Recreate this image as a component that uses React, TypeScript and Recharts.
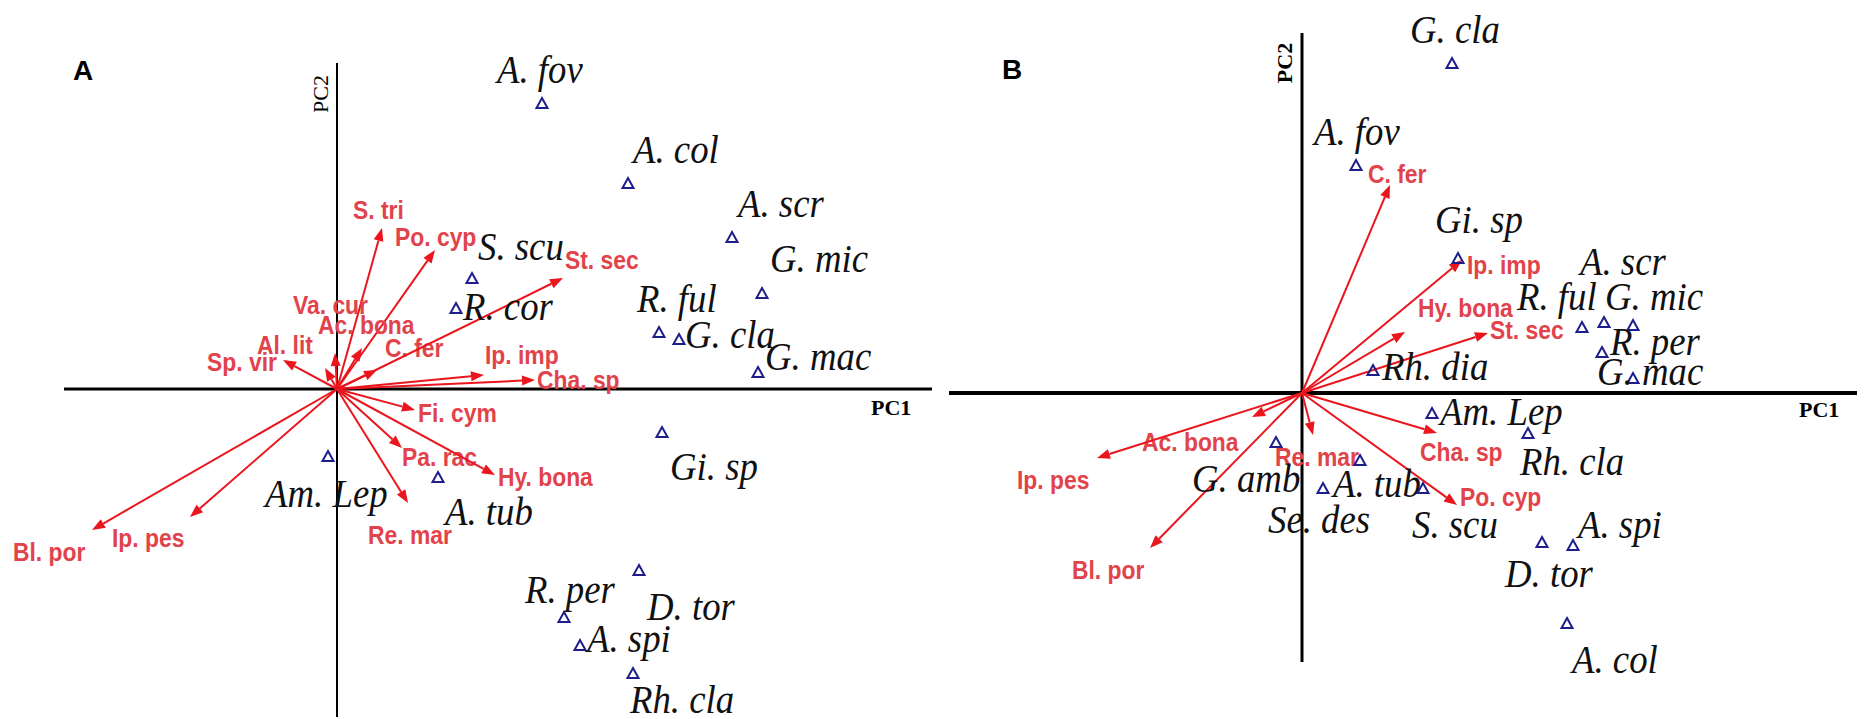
import React from "react";
import { ScatterChart, Scatter, XAxis, YAxis, ReferenceLine } from "recharts";

// ---- Panel A: species scores (PC1, PC2)
const speciesA = ["A. fov", "A. col", "A. scr", "G. mic", "S. scu", "R. cor", "R. ful", "G. cla", "G. mac", "Gi. sp", "Am. Lep", "A. tub", "D. tor", "R. per", "A. spi", "Rh. cla"];
const speciesAPC1 = [2.05, 2.91, 3.95, 4.25, 1.35, 1.19, 3.22, 3.42, 4.21, 3.25, -0.09, 1.01, 3.02, 2.27, 2.43, 2.96];
const speciesAPC2 = [2.86, 2.06, 1.52, 0.96, 1.11, 0.81, 0.57, 0.5, 0.17, -0.43, -0.67, -0.88, -1.81, -2.28, -2.56, -2.84];

// ---- Panel A: environmental vectors
const vectorsA = ["S. tri", "Po. cyp", "Va. cur", "Ac. bona", "Al. lit", "Sp. vir", "C. fer", "St. sec", "Ip. imp", "Cha. sp", "Fi. cym", "Pa. rac", "Hy. bona", "Re. mar", "Ip. pes", "Bl. por"];
const vectorsAPC1 = [0.45, 0.98, -0.02, 0.25, -0.12, -0.54, 0.4, 2.26, 1.47, 1.98, 0.78, 0.65, 1.58, 0.71, -1.47, -2.45];
const vectorsAPC2 = [1.61, 1.39, 0.36, 0.41, 0.21, 0.29, 0.19, 1.11, 0.14, 0.09, -0.21, -0.59, -0.86, -1.14, -1.28, -1.41];

// ---- Panel B: species scores
const speciesB = ["G. cla", "A. fov", "Gi. sp", "R. ful", "A. scr", "G. mic", "R. per", "G. mac", "Rh. dia", "Am. Lep", "Rh. cla", "G. amb", "Se. des", "A. tub", "S. scu", "A. spi", "D. tor", "A. col"];
const speciesBPC1 = [1.5, 0.54, 1.56, 2.8, 3.02, 3.31, 3.0, 3.31, 0.71, 1.3, 2.26, -0.26, 0.58, 0.21, 1.21, 2.71, 2.4, 2.65];
const speciesBPC2 = [3.3, 2.28, 1.35, 0.66, 0.71, 0.68, 0.41, 0.15, 0.23, -0.2, -0.4, -0.49, -0.67, -0.95, -0.95, -1.52, -1.49, -2.3];

// ---- Panel B: environmental vectors
const vectorsB = ["C. fer", "Ip. imp", "Hy. bona", "St. sec", "Ac. bona", "Ip. pes", "Bl. por", "Re. mar", "Cha. sp", "Po. cyp"];
const vectorsBPC1 = [0.88, 1.6, 1.03, 1.86, -0.5, -2.05, -1.52, 0.11, 1.35, 1.55];
const vectorsBPC2 = [2.08, 1.33, 0.61, 0.6, -0.24, -0.65, -1.55, -0.42, -0.4, -1.12];

// label placement (px from the mark)
const speciesLabelPosA: Record<string, [number, number]> = {
  "A. fov": [-45, -20], "A. col": [5, -20], "A. scr": [6, -20], "G. mic": [8, -21],
  "S. scu": [6, -18], "R. cor": [7, 12], "R. ful": [-22, -20], "G. cla": [6, 9],
  "G. mac": [7, -2], "Gi. sp": [8, 48], "Am. Lep": [-63, 51], "A. tub": [7, 48],
  "D. tor": [8, 50], "R. per": [-39, -14], "A. spi": [7, 7], "Rh. cla": [-3, 40],
};
const speciesLabelPosB: Record<string, [number, number]> = {
  "G. cla": [-42, -20], "A. fov": [-42, -20], "Gi. sp": [-23, -25], "R. ful": [-65, -17],
  "A. scr": [-24, -47], "G. mic": [-28, -15], "R. per": [8, 3], "G. mac": [-36, 7],
  "Rh. dia": [9, 10], "Am. Lep": [8, 12], "Rh. cla": [-8, 42], "G. amb": [-84, 50],
  "Se. des": [-92, 73], "A. tub": [10, 9], "S. scu": [-11, 50], "A. spi": [5, -7],
  "D. tor": [-37, 45], "A. col": [5, 50],
};
const vectorLabelPosA: Record<string, [number, number]> = {
  "S. tri": [-29, -10], "Po. cyp": [-40, -5], "Va. cur": [-42, -40], "Ac. bona": [-44, -15],
  "Al. lit": [-68, -15], "Sp. vir": [-76, 10], "C. fer": [8, -14], "St. sec": [2, -10],
  "Ip. imp": [1, -12], "Cha. sp": [2, 8], "Fi. cym": [3, 11], "Pa. rac": [0, 17],
  "Hy. bona": [3, 10], "Re. mar": [-40, 40], "Ip. pes": [-78, 29], "Bl. por": [-79, 30],
};
const vectorLabelPosB: Record<string, [number, number]> = {
  "C. fer": [-22, -3], "Ip. imp": [5, 13], "Hy. bona": [13, -16], "St. sec": [2, 5],
  "Ac. bona": [-110, 33], "Ip. pes": [-80, 30], "Bl. por": [-78, 30], "Re. mar": [-38, 30],
  "Cha. sp": [-17, 27], "Po. cyp": [3, 0],
};

const ARROW = "#ea151d";
const VEC_TEXT = "#e2434b";
const TRI = "#1d1d8c";
const SERIF = "'Liberation Serif', 'Times New Roman', serif";
const SANS = "'Liberation Sans', Arial, sans-serif";

const toPoints = (names: string[], xs: number[], ys: number[]) =>
  names.map((name, i) => ({ name, x: xs[i], y: ys[i] }));

const makeSpeciesShape = (pos: Record<string, [number, number]>) => (p: any) => {
  const { cx, cy, payload } = p;
  const off = pos[payload.name] || [6, 0];
  return (
    <g>
      <path
        d={`M${cx},${cy - 5} L${cx + 5.5},${cy + 5} L${cx - 5.5},${cy + 5} Z`}
        fill="none"
        stroke={TRI}
        strokeWidth={2}
      />
      <text
        transform={`translate(${cx + off[0]},${cy + off[1]}) scale(0.92,1)`}
        fontFamily={SERIF}
        fontStyle="italic"
        fontSize={40}
        fill="#111"
      >
        {payload.name}
      </text>
    </g>
  );
};

const makeArrowShape = (name: string, off: [number, number]) => (p: any) => {
  const { x1, y1, x2, y2 } = p;
  const a = Math.atan2(y2 - y1, x2 - x1);
  const hl = 13;
  const hw = 5;
  const bx = x2 - hl * Math.cos(a);
  const by = y2 - hl * Math.sin(a);
  const px = -Math.sin(a) * hw;
  const py = Math.cos(a) * hw;
  return (
    <g>
      <line x1={x1} y1={y1} x2={bx} y2={by} stroke={ARROW} strokeWidth={2} />
      <polygon points={`${x2},${y2} ${bx + px},${by + py} ${bx - px},${by - py}`} fill={ARROW} />
      <text
        transform={`translate(${x2 + off[0]},${y2 + off[1] + 1}) scale(0.88,1)`}
        fontFamily={SANS}
        fontWeight="bold"
        fontSize={26}
        fill={VEC_TEXT}
      >
        {name}
      </text>
    </g>
  );
};

interface PanelProps {
  width: number;
  height: number;
  margin: { top: number; right: number; bottom: number; left: number };
  xDomain: [number, number];
  yDomain: [number, number];
  species: { name: string; x: number; y: number }[];
  vectors: { name: string; x: number; y: number }[];
  speciesPos: Record<string, [number, number]>;
  vectorPos: Record<string, [number, number]>;
  hWidth: number;
  vWidth: number;
}

const Biplot: React.FC<PanelProps> = (props) => (
  <ScatterChart width={props.width} height={props.height} margin={props.margin}>
    <XAxis type="number" dataKey="x" domain={props.xDomain} hide />
    <YAxis type="number" dataKey="y" domain={props.yDomain} hide />
    <ReferenceLine y={0} stroke="#000" strokeWidth={props.hWidth} />
    <ReferenceLine x={0} stroke="#000" strokeWidth={props.vWidth} />
    {props.vectors.map((v) => (
      <ReferenceLine
        key={v.name}
        segment={[{ x: 0, y: 0 }, { x: v.x, y: v.y }]}
        shape={makeArrowShape(v.name, props.vectorPos[v.name] || [4, 8])}
      />
    ))}
    <Scatter data={props.species} shape={makeSpeciesShape(props.speciesPos)} isAnimationActive={false} />
  </ScatterChart>
);

const App: React.FC = () => {
  return (
    <div style={{ position: "absolute", left: 0, top: 0, width: 1868, height: 719, background: "#fff" }}>
      <div style={{ position: "absolute", left: 0, top: 0 }}>
        <Biplot
          width={934}
          height={719}
          margin={{ top: 63, right: 2, bottom: 2, left: 64 }}
          xDomain={[-2.73, 5.95]}
          yDomain={[-3.28, 3.26]}
          species={toPoints(speciesA, speciesAPC1, speciesAPC2)}
          vectors={toPoints(vectorsA, vectorsAPC1, vectorsAPC2)}
          speciesPos={speciesLabelPosA}
          vectorPos={vectorLabelPosA}
          hWidth={3}
          vWidth={2}
        />
      </div>
      <div style={{ position: "absolute", left: 934, top: 0 }}>
        <Biplot
          width={934}
          height={719}
          margin={{ top: 33, right: 11, bottom: 57, left: 15 }}
          xDomain={[-3.53, 5.55]}
          yDomain={[-2.69, 3.6]}
          species={toPoints(speciesB, speciesBPC1, speciesBPC2)}
          vectors={toPoints(vectorsB, vectorsBPC1, vectorsBPC2)}
          speciesPos={speciesLabelPosB}
          vectorPos={vectorLabelPosB}
          hWidth={4}
          vWidth={3}
        />
      </div>
      <svg width={1868} height={719} style={{ position: "absolute", left: 0, top: 0, pointerEvents: "none" }}>
        <text x={73} y={80} fontFamily={SANS} fontWeight="bold" fontSize={28} fill="#000">A</text>
        <text x={1002} y={79} fontFamily={SANS} fontWeight="bold" fontSize={28} fill="#000">B</text>
        <text x={871} y={415} fontFamily={SERIF} fontWeight="bold" fontSize={22} fill="#000">PC1</text>
        <text x={1799} y={417} fontFamily={SERIF} fontWeight="bold" fontSize={22} fill="#000">PC1</text>
        <text transform="translate(328,94) rotate(-90)" textAnchor="middle" fontFamily={SERIF} fontSize={22} fill="#000">PC2</text>
        <text transform="translate(1292,63) rotate(-90)" textAnchor="middle" fontFamily={SERIF} fontWeight="bold" fontSize={22} fill="#000">PC2</text>
      </svg>
    </div>
  );
};

export default App;
